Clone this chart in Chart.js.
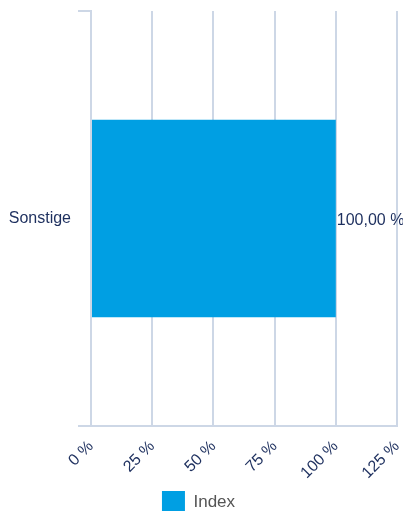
<!DOCTYPE html>
<html>
<head>
<meta charset="utf-8">
<script src="https://cdn.jsdelivr.net/npm/chart.js@4"></script>
<style>
  html, body { margin: 0; padding: 0; background: #fff; overflow: hidden; }
  #wrap { width: 403px; height: 511px; overflow: hidden; }
</style>
</head>
<body>
<div id="wrap"><canvas id="c" width="403" height="523"></canvas></div>
<script>
const categories = ['Sonstige'];
const seriesName = 'Index';
const indexValues = [100];
const xTicks = [0, 25, 50, 75, 100, 125];

const navy = '#1d2f5e';
const gridCol = '#cdd7e6';
const fontFam = 'Arial, "Liberation Sans", sans-serif';

// value label at the end of each bar
const barLabels = {
  id: 'barLabels',
  afterDatasetsDraw(chart) {
    const ctx = chart.ctx;
    const meta = chart.getDatasetMeta(0);
    ctx.save();
    ctx.font = '16px ' + fontFam;
    ctx.fillStyle = navy;
    ctx.textBaseline = 'middle';
    ctx.textAlign = 'left';
    meta.data.forEach((bar, i) => {
      const v = chart.data.datasets[0].data[i];
      ctx.fillText(v.toFixed(2).replace('.', ',') + ' %', bar.x + 1, bar.y + 2);
    });
    ctx.restore();
  }
};

new Chart(document.getElementById('c'), {
  type: 'bar',
  data: {
    labels: categories,
    datasets: [{
      label: seriesName,
      data: indexValues,
      backgroundColor: '#009fe3',
      borderWidth: 0,
      barPercentage: 0.8,
      categoryPercentage: 0.595
    }]
  },
  options: {
    indexAxis: 'y',
    responsive: false,
    animation: false,
    layout: { padding: { left: 0, right: 6, top: 11, bottom: 0 } },
    plugins: {
      legend: {
        position: 'bottom',
        labels: {
          color: '#555',
          font: { size: 17, family: fontFam },
          boxWidth: 23,
          boxHeight: 22,
          padding: 10
        }
      },
      tooltip: { enabled: false }
    },
    scales: {
      x: {
        min: 0,
        max: 125,
        afterBuildTicks(scale) { scale.ticks = xTicks.map(v => ({ value: v })); },
        grid: { color: gridCol, lineWidth: 2, tickLength: 0 },
        border: { color: gridCol, width: 2 },
        ticks: {
          color: navy,
          font: { size: 16, family: fontFam },
          minRotation: 45,
          maxRotation: 45,
          padding: 11,
          callback: v => v + ' %'
        },
        afterFit(scale) {
          scale.height = 55;
          scale.paddingLeft = 0; scale.paddingRight = 0;
        }
      },
      y: {
        grid: { color: gridCol, lineWidth: 2, drawOnChartArea: false, tickLength: 13, offset: true },
        border: { color: gridCol, width: 2 },
        ticks: {
          color: navy,
          font: { size: 16, family: fontFam },
          padding: 7
        },
        afterFit(scale) {
          scale.width = 91;
          scale.paddingTop = 0; scale.paddingBottom = 0;
        }
      }
    }
  },
  plugins: [barLabels]
});
</script>
</body>
</html>
